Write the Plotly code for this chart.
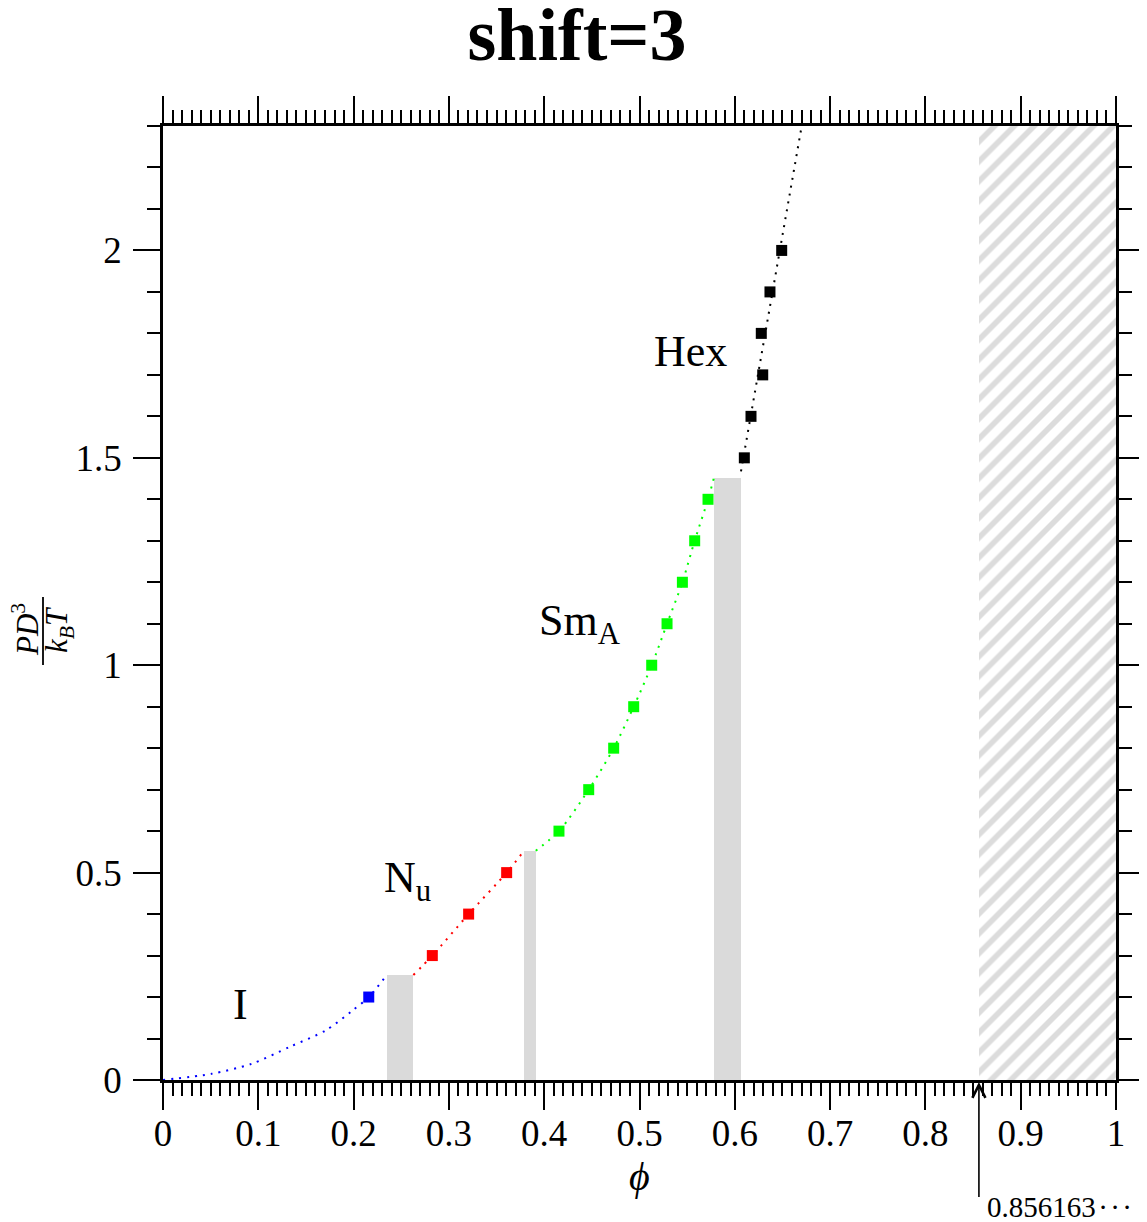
import plotly.graph_objects as go

# ---- data ----
blue_phi = [0.2159]
blue_p = [0.2]
red_phi = [0.2826, 0.3207, 0.3606]
red_p = [0.3, 0.4, 0.5]
green_phi = [0.4155, 0.4467, 0.4729, 0.4939, 0.5128, 0.5289, 0.5450, 0.5579, 0.5719]
green_p = [0.6, 0.7, 0.8, 0.9, 1.0, 1.1, 1.2, 1.3, 1.4]
black_phi = [0.6100, 0.6170, 0.6293, 0.6278, 0.6369, 0.6492]
black_p = [1.5, 1.6, 1.7, 1.8, 1.9, 2.0]

# fitted equation-of-state curves (dotted)
blue_line_phi = [0.0, 0.051, 0.093, 0.133, 0.171, 0.198, 0.2159, 0.2347]
blue_line_p = [0.0, 0.015, 0.039, 0.080, 0.120, 0.166, 0.2, 0.253]
red_line_phi = [0.2627, 0.2826, 0.3207, 0.3606, 0.3788]
red_line_p = [0.253, 0.3, 0.4, 0.5, 0.5526]
green_line_phi = [0.3911, 0.4155, 0.4467, 0.4729, 0.4939, 0.5128, 0.5289, 0.5450, 0.5579, 0.5719, 0.578]
green_line_p = [0.5526, 0.6, 0.7, 0.8, 0.9, 1.0, 1.1, 1.2, 1.3, 1.4, 1.451]
black_line_phi = [0.6065, 0.6376, 0.6702]
black_line_p = [1.4675, 1.8755, 2.3]

# coexistence regions (grey bars): left, right, pressure
coex_left = [0.2347, 0.3788, 0.5780]
coex_right = [0.2627, 0.3911, 0.6065]
coex_p = [0.253, 0.5526, 1.451]

# close-packing limit
phi_cp = 0.856163
phi_max = 1.0
p_max = 2.3

# phase labels
label_text = ["I", "N<sub>u</sub>", "Sm<sub>A</sub>", "Hex"]
label_phi = [0.081, 0.257, 0.438, 0.553]
label_p = [0.181, 0.48, 1.10, 1.757]

FONT = "Liberation Serif"
OFF = 8                      # page body margin
PAGE_W, PAGE_H = 1147, 1222
W, H = PAGE_W - OFF, PAGE_H - OFF
PLOT_L, PLOT_R, PLOT_T, PLOT_B = 163, 1116, 126, 1080   # page pixels of plot area
L = PLOT_L - OFF
T = PLOT_T - OFF
R = W - (PLOT_R - OFF)
B = H - (PLOT_B - OFF)


def px2paper_x(px):
    return (px - PLOT_L) / (PLOT_R - PLOT_L)


def px2paper_y(py):
    return (PLOT_B - py) / (PLOT_B - PLOT_T)


fig = go.Figure()

# hatched excluded region
fig.add_trace(go.Bar(
    x=[(phi_cp + phi_max) / 2], y=[p_max], base=0, width=[phi_max - phi_cp],
    marker=dict(color="white", line=dict(width=0),
                pattern=dict(shape="/", fgcolor="#dcdcdc", bgcolor="white", size=14, solidity=0.4)),
    showlegend=False, hoverinfo="skip"))

# coexistence bars
fig.add_trace(go.Bar(
    x=[(a + b) / 2 for a, b in zip(coex_left, coex_right)],
    y=coex_p, base=0,
    width=[b - a for a, b in zip(coex_left, coex_right)],
    marker=dict(color="#dadada", line=dict(width=0)),
    showlegend=False, hoverinfo="skip"))

DASH = "2px,6px"
for lx, ly, c, shape in [(blue_line_phi, blue_line_p, "#0000ff", "spline"),
                         (red_line_phi, red_line_p, "#ff0000", "spline"),
                         (green_line_phi, green_line_p, "#00ff00", "spline"),
                         (black_line_phi, black_line_p, "#000000", "linear")]:
    fig.add_trace(go.Scatter(x=lx, y=ly, mode="lines",
                             line=dict(color=c, width=2, dash=DASH, shape=shape, smoothing=0.8),
                             showlegend=False, hoverinfo="skip"))

for mx, my, c in [(blue_phi, blue_p, "#0000ff"), (red_phi, red_p, "#ff0000"),
                  (green_phi, green_p, "#00ff00"), (black_phi, black_p, "#000000")]:
    fig.add_trace(go.Scatter(x=mx, y=my, mode="markers",
                             marker=dict(symbol="square", size=11, color=c, line=dict(width=0)),
                             showlegend=False))

annotations = []
for t, x, y in zip(label_text, label_phi, label_p):
    annotations.append(dict(x=x, y=y, xref="x", yref="y", text=t, showarrow=False,
                            font=dict(family=FONT, size=44, color="black")))

# arrow marking close packing
annotations.append(dict(x=phi_cp, y=0, xref="x", yref="y", text=" ", showarrow=True,
                        ax=0, ay=124, arrowhead=5, arrowsize=1.6, arrowwidth=1.6,
                        arrowcolor="black", standoff=2,
                        font=dict(family=FONT, size=10, color="black")))
annotations.append(dict(x=phi_cp, y=0, xref="x", yref="y",
                        text=f"{phi_cp}\u200a\u00b7\u200a\u00b7\u200a\u00b7",
                        showarrow=False, xanchor="left", yanchor="middle",
                        xshift=6, yshift=-127,
                        font=dict(family=FONT, size=29, color="black")))

# x title
annotations.append(dict(x=0.5, y=px2paper_y(1176), xref="paper", yref="paper",
                        text="<i>\u03d5</i>", showarrow=False, yanchor="middle",
                        font=dict(family=FONT, size=40, color="black")))

# y title as a fraction
annotations.append(dict(x=px2paper_x(25), y=px2paper_y(630), xref="paper", yref="paper",
                        text="<i>PD</i><sup>3</sup>", showarrow=False, textangle=-90,
                        xanchor="center", yanchor="middle",
                        font=dict(family=FONT, size=31, color="black")))
annotations.append(dict(x=px2paper_x(59), y=px2paper_y(630), xref="paper", yref="paper",
                        text="<i>k<sub>B</sub>T</i>", showarrow=False, textangle=-90,
                        xanchor="center", yanchor="middle",
                        font=dict(family=FONT, size=31, color="black")))

shapes = [dict(type="line", xref="paper", yref="paper",
               x0=px2paper_x(43), x1=px2paper_x(43),
               y0=px2paper_y(597), y1=px2paper_y(665),
               line=dict(color="black", width=1.8))]

axis_common = dict(showline=True, linecolor="black", linewidth=2.5, mirror="ticks",
                   ticks="outside", ticklen=27, tickwidth=2, tickcolor="black",
                   showgrid=False, zeroline=False, automargin=False,
                   tickfont=dict(family=FONT, size=37, color="black"))

fig.update_layout(
    template="none",
    width=W, height=H,
    margin=dict(l=L, r=R, t=T, b=B, autoexpand=False),
    paper_bgcolor="white", plot_bgcolor="white",
    barmode="overlay", bargap=0,
    title=dict(text="<b>shift=3</b>", x=px2paper_x(577), xref="paper", xanchor="center",
               y=1 - (34 - OFF) / H, yanchor="middle",
               font=dict(family=FONT, size=74, color="black")),
    xaxis=dict(range=[0, phi_max], dtick=0.1, tick0=0, ticklabelstandoff=-8,
               minor=dict(ticks="outside", ticklen=13, tickwidth=2, tickcolor="black", dtick=0.01, showgrid=False),
               **axis_common),
    yaxis=dict(range=[0, p_max], dtick=0.5, tick0=0, ticklabelstandoff=4,
               minor=dict(ticks="outside", ticklen=13, tickwidth=2, tickcolor="black", dtick=0.1, showgrid=False),
               **axis_common),
    annotations=annotations,
    shapes=shapes,
    showlegend=False,
)

fig.write_html("out.html")
